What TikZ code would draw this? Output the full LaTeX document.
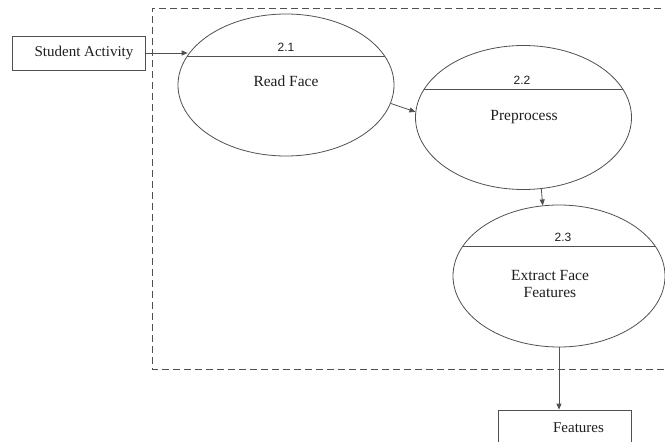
\documentclass[tikz,border=0pt]{standalone}
\usepackage{fontspec}
\setmainfont{Liberation Serif}
\newfontfamily\numfont{Liberation Sans}
\usetikzlibrary{shapes.geometric,arrows.meta}
\definecolor{ln}{HTML}{505050}
\definecolor{tx}{HTML}{1E1E1E}
\tikzset{
  proc/.style={draw=ln, line width=0.8pt, ellipse, minimum width=216pt, minimum height=142pt, inner sep=0pt},
  extbox/.style={draw=ln, line width=0.8pt, rectangle, inner sep=0pt, font=\fontsize{15}{18}\selectfont, text=tx},
  num/.style={font=\numfont\fontsize{12}{14}\selectfont, text=tx, inner sep=0pt},
  lbl/.style={font=\fontsize{15.5}{17.5}\selectfont, text=tx, align=center, inner sep=0pt},
  flow/.style={draw=ln, line width=0.8pt, -{Triangle[length=6pt,width=5pt]}},
  chord/.style={draw=ln, line width=0.8pt},
  bound/.style={draw=ln, line width=0.8pt, dash pattern=on 7pt off 4pt}
}
\begin{document}
\begin{tikzpicture}[x=1pt,y=-1pt]
\useasboundingbox (0,0) rectangle (665,442);
% boundary
\draw[bound] (672,8) -- (152,8) -- (152,369) -- (672,369);
% external entities
\node[extbox, minimum width=133pt, minimum height=34pt] (sa) at (78.5,53) {\hspace*{11pt}Student Activity};
\node[extbox, minimum width=133pt, minimum height=35pt] (feat) at (564.5,427.5) {\hspace*{28pt}Features};
% processes
\node[proc] (p1) at (286,85) {};
\node[proc, minimum height=144pt] (p2) at (523.5,117.5) {};
\node[proc, minimum width=212pt] (p3) at (559,276) {};
% chords
\begin{scope}
  \clip (286,85) ellipse [x radius=108, y radius=71];
  \draw[chord] (170,56) -- (400,56);
\end{scope}
\begin{scope}
  \clip (523.5,117.5) ellipse [x radius=108, y radius=72];
  \draw[chord] (400,89) -- (640,89);
\end{scope}
\begin{scope}
  \clip (559,276) ellipse [x radius=106, y radius=71];
  \draw[chord] (440,246) -- (680,246);
\end{scope}
% labels
\node[num] (n1) at (286,47) {2.1};
\node[lbl] (l1) at (286,81) {Read Face};
\node[num] (n2) at (522,80) {2.2};
\node[lbl] (l2) at (524,117) {Preprocess};
\node[num] (n3) at (563,237) {2.3};
\node[lbl] (l3) at (550,284) {Extract Face\\Features};
% flows
\draw[flow] (sa.east) -- (sa.east -| p1.163);
\draw[flow] (p1.-10) -- (p2.177);
\draw[flow] (p2.-76) -- (p3.103);
\draw[flow] (p3.south) -- (p3.south |- feat.north);
\end{tikzpicture}
\end{document}
